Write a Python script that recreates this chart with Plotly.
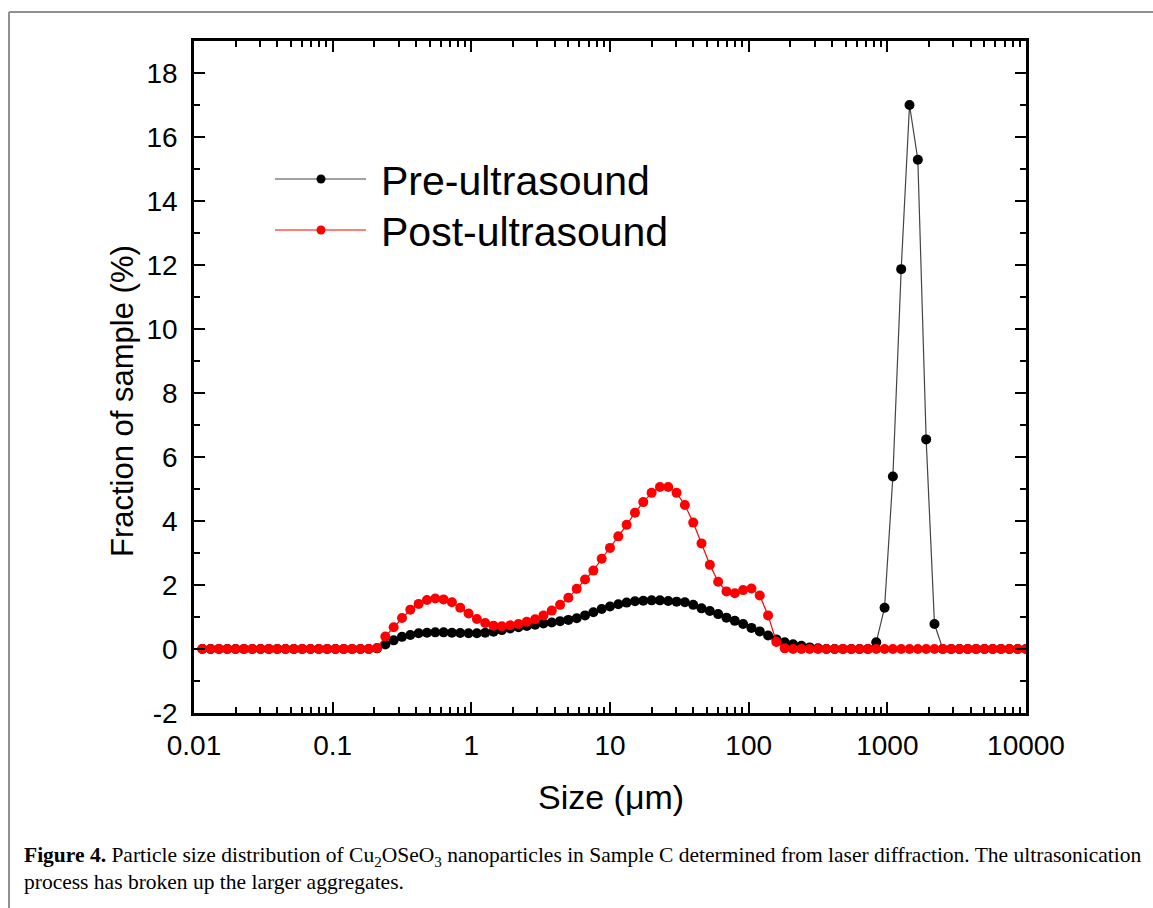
import plotly.graph_objects as go

# Particle size classes (um)
sizes = [0.011482, 0.013183, 0.015136, 0.017378, 0.019953, 0.022909, 0.026303, 0.030200, 0.034674, 0.039811,
         0.045709, 0.052481, 0.060256, 0.069183, 0.079433, 0.091201, 0.10471, 0.12023, 0.13804, 0.15849,
         0.18197, 0.20893, 0.23988, 0.27542, 0.31623, 0.36308, 0.41687, 0.47863, 0.54954, 0.63096,
         0.72444, 0.83176, 0.95499, 1.0965, 1.2589, 1.4454, 1.6596, 1.9055, 2.1878, 2.5119,
         2.8840, 3.3113, 3.8019, 4.3652, 5.0119, 5.7544, 6.6069, 7.5858, 8.7096, 10.000,
         11.482, 13.183, 15.136, 17.378, 19.953, 22.909, 26.303, 30.200, 34.674, 39.811,
         45.709, 52.481, 60.256, 69.183, 79.433, 91.201, 104.71, 120.23, 138.04, 158.49,
         181.97, 208.93, 239.88, 275.42, 316.23, 363.08, 416.87, 478.63, 549.54, 630.96,
         724.44, 831.76, 954.99, 1096.5, 1258.9, 1445.4, 1659.6, 1905.5, 2187.8, 2511.9,
         2884.0, 3311.3, 3801.9, 4365.2, 5011.9, 5754.4, 6606.9, 7585.8, 8709.6, 10000.0]

pre_ultrasound = [0]*21 + [
    0.02, 0.14, 0.27, 0.38, 0.44, 0.49, 0.51, 0.52, 0.52, 0.51,
    0.50, 0.49, 0.49, 0.51, 0.54, 0.59, 0.64, 0.68, 0.72, 0.76,
    0.80, 0.83, 0.87, 0.91, 0.96, 1.05, 1.15, 1.25, 1.33, 1.40,
    1.45, 1.49, 1.51, 1.52, 1.52, 1.50, 1.48, 1.46, 1.38, 1.27,
    1.19, 1.09, 0.98, 0.88, 0.78, 0.66, 0.55, 0.42, 0.30, 0.21,
    0.15, 0.10, 0.05, 0.02] + [0]*6 + [
    0.21, 1.29, 5.39, 11.87, 17.0, 15.29, 6.55, 0.78] + [0]*11

post_ultrasound = [0]*21 + [
    0.03, 0.39, 0.68, 0.97, 1.23, 1.41, 1.53, 1.58, 1.55, 1.46,
    1.29, 1.11, 0.94, 0.81, 0.73, 0.71, 0.74, 0.78, 0.85, 0.93,
    1.05, 1.20, 1.38, 1.60, 1.88, 2.17, 2.45, 2.82, 3.16, 3.52,
    3.88, 4.26, 4.59, 4.88, 5.06, 5.06, 4.88, 4.50, 3.95, 3.30,
    2.63, 2.10, 1.80, 1.74, 1.84, 1.89, 1.67, 1.05, 0.22, 0.02] + [0]*29

series_names = ["Pre-ultrasound", "Post-ultrasound"]
x_tickvals = [0.01, 0.1, 1, 10, 100, 1000, 10000]
x_ticktext = ["0.01", "0.1", "1", "10", "100", "1000", "10000"]
x_minor = [m * 10**e for e in range(-2, 4) for m in range(2, 10)]
y_tickvals = [-2, 0, 2, 4, 6, 8, 10, 12, 14, 16, 18]
y_ticktext = ["-2", "0", "2", "4", "6", "8", "10", "12", "14", "16", "18"]

W_FIG, H_FIG = 1153, 908
L, R, T, B = 194, 127, 41, 195
PW, PH = W_FIG - L - R, H_FIG - T - B


def px(x):
    return (x - L) / PW


def py(y):
    return (H_FIG - B - y) / PH


SANS = "Liberation Sans, Arial, sans-serif"
SERIF = "Liberation Serif, Times New Roman, serif"

fig = go.Figure()
fig.add_trace(go.Scatter(
    x=sizes, y=pre_ultrasound, mode="lines+markers", name=series_names[0],
    line=dict(color="#444444", width=1.2),
    marker=dict(color="black", size=10), showlegend=False))
fig.add_trace(go.Scatter(
    x=sizes, y=post_ultrasound, mode="lines+markers", name=series_names[1],
    line=dict(color="#ff0000", width=1.2),
    marker=dict(color="#ff0000", size=10), showlegend=False))

axis_common = dict(
    showline=True, linecolor="black", linewidth=2.5, mirror="allticks",
    ticks="inside", ticklen=11, tickwidth=2, tickcolor="black",
    showgrid=False, zeroline=False,
    tickfont=dict(family=SANS, size=28, color="black"),
)

fig.update_xaxes(
    type="log", range=[-2, 4], tickmode="array", tickvals=x_tickvals, ticktext=x_ticktext,
    ticklabelstandoff=6,
    minor=dict(tickmode="array", tickvals=x_minor, ticks="inside", ticklen=6,
               tickwidth=2, tickcolor="black", showgrid=False),
    **axis_common)
fig.update_yaxes(
    range=[-2, 19], tickmode="array", tickvals=y_tickvals, ticktext=y_ticktext,
    ticklabelstandoff=8,
    minor=dict(dtick=1, ticks="inside", ticklen=6, tickwidth=2, tickcolor="black", showgrid=False),
    **axis_common)

annotations = [
    dict(text="Size (μm)", x=px(611), y=py(797), xref="paper", yref="paper",
         showarrow=False, xanchor="center", yanchor="middle",
         font=dict(family=SANS, size=34, color="black")),
    dict(text="Fraction of sample (%)", x=px(122), y=py(401), xref="paper", yref="paper",
         showarrow=False, xanchor="center", yanchor="middle", textangle=-90,
         font=dict(family=SANS, size=31, color="black")),
]

# legend (drawn manually to mimic long line samples)
legend_rows = [(series_names[0], 179, "#444444", "black"), (series_names[1], 230, "#ff0000", "#ff0000")]
shapes = []
for name, yy, lc, mc in legend_rows:
    shapes.append(dict(type="line", xref="paper", yref="paper", x0=px(275), x1=px(366),
                       y0=py(yy), y1=py(yy), line=dict(color=lc, width=1.2)))
    shapes.append(dict(type="circle", xref="paper", yref="paper", xsizemode="pixel", ysizemode="pixel",
                       xanchor=px(321), yanchor=py(yy), x0=-4.5, x1=4.5, y0=-4.5, y1=4.5,
                       fillcolor=mc, line=dict(color=mc, width=0)))
    annotations.append(dict(text=name, x=px(379), y=py(yy + 2), xref="paper", yref="paper",
                            showarrow=False, xanchor="left", yanchor="middle",
                            font=dict(family=SANS, size=41, color="black")))

# figure frame lines
shapes.append(dict(type="line", xref="paper", yref="paper", x0=px(9), x1=px(1153), y0=py(12), y1=py(12),
                   line=dict(color="#909090", width=2)))
shapes.append(dict(type="line", xref="paper", yref="paper", x0=px(9), x1=px(9), y0=py(12), y1=py(908),
                   line=dict(color="#909090", width=2)))

caption1 = ("<b>Figure 4.</b> Particle size distribution of Cu<sub>2</sub>OSeO<sub>3</sub> nanoparticles in "
            "Sample C determined from laser diffraction. The ultrasonication")
caption2 = "process has broken up the larger aggregates."
annotations.append(dict(text=caption1, x=px(22), y=py(856), xref="paper", yref="paper", showarrow=False,
                        xanchor="left", yanchor="middle", font=dict(family=SERIF, size=21.5, color="black")))
annotations.append(dict(text=caption2, x=px(22), y=py(882), xref="paper", yref="paper", showarrow=False,
                        xanchor="left", yanchor="middle", font=dict(family=SERIF, size=21.5, color="black")))

fig.update_layout(
    width=W_FIG, height=H_FIG, margin=dict(l=L, r=R, t=T, b=B),
    paper_bgcolor="white", plot_bgcolor="white",
    annotations=annotations, shapes=shapes, showlegend=False,
)

fig.write_html("out.html")
